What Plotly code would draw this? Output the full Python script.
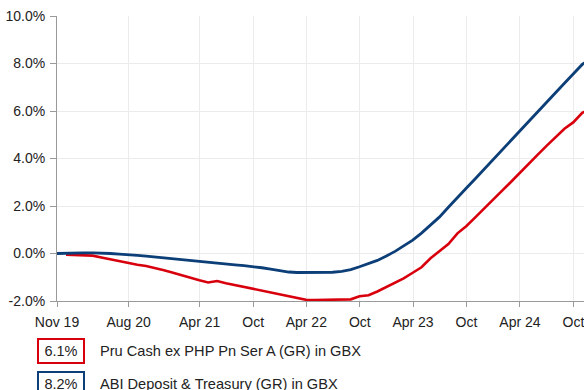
import plotly.graph_objects as go

# Month-end observations, cumulative growth in %
blue_dates = [
    "2019-11-30", "2019-12-31", "2020-01-31", "2020-02-29", "2020-03-31", "2020-04-30",
    "2020-05-31", "2020-06-30", "2020-07-31", "2020-08-31", "2020-09-30", "2020-10-31",
    "2020-11-30", "2020-12-31", "2021-01-31", "2021-02-28", "2021-03-31", "2021-04-30",
    "2021-05-31", "2021-06-30", "2021-07-31", "2021-08-31", "2021-09-30", "2021-10-31",
    "2021-11-30", "2021-12-31", "2022-01-31", "2022-02-28", "2022-03-31", "2022-04-30",
    "2022-05-31", "2022-06-30", "2022-07-31", "2022-08-31", "2022-09-30", "2022-10-31",
    "2022-11-30", "2022-12-31", "2023-01-31", "2023-02-28", "2023-03-31", "2023-04-30",
    "2023-05-31", "2023-06-30", "2023-07-31", "2023-08-31", "2023-09-30", "2023-10-31",
    "2023-11-30", "2023-12-31", "2024-01-31", "2024-02-29", "2024-03-31", "2024-04-30",
    "2024-05-31", "2024-06-30", "2024-07-31", "2024-08-31", "2024-09-30", "2024-10-31",
    "2024-11-29",
]
abi_values = [
    0.00, 0.02, 0.03, 0.03, 0.03, 0.03,
    0.00, -0.03, -0.04, -0.08, -0.11, -0.15,
    -0.18, -0.22, -0.26, -0.30, -0.34, -0.38,
    -0.42, -0.45, -0.48, -0.51, -0.54, -0.60,
    -0.66, -0.72, -0.78, -0.80, -0.80, -0.80,
    -0.80, -0.79, -0.75, -0.68, -0.56, -0.43,
    -0.29, -0.10, 0.10, 0.32, 0.56, 0.86,
    1.18, 1.53, 1.95, 2.37, 2.75, 3.15,
    3.55, 3.95, 4.36, 4.76, 5.16, 5.56,
    5.97, 6.36, 6.77, 7.17, 7.56, 7.96,
    8.20,
]

red_dates = blue_dates[1:]
pru_values = [
    -0.05, -0.06, -0.07, -0.09, -0.17,
    -0.25, -0.32, -0.40, -0.47, -0.53, -0.61,
    -0.71, -0.81, -0.93, -1.04, -1.13, -1.22,
    -1.16, -1.25, -1.33, -1.41, -1.50, -1.58,
    -1.66, -1.75, -1.82, -1.90, -1.95, -1.96,
    -1.96, -1.96, -1.95, -1.93, -1.80, -1.76,
    -1.60, -1.40, -1.22, -1.05, -0.81, -0.58,
    -0.20, 0.10, 0.40, 0.85, 1.15, 1.52,
    1.90, 2.27, 2.65, 3.00, 3.40, 3.78,
    4.15, 4.52, 4.90, 5.25, 5.52, 5.92,
    6.10,
]

series_names = ["Pru Cash ex PHP Pn Ser A (GR) in GBX", "ABI Deposit & Treasury (GR) in GBX"]
series_totals = ["6.1%", "8.2%"]
series_colors = ["#d9000d", "#0c3e77"]

x_tick_dates = ["2019-11-30", "2020-08-01", "2021-04-01", "2021-10-01", "2022-04-01",
                "2022-10-01", "2023-04-01", "2023-10-01", "2024-04-01", "2024-10-01"]
x_tick_labels = ["Nov 19", "Aug 20", "Apr 21", "Oct", "Apr 22", "Oct", "Apr 23", "Oct", "Apr 24", "Oct"]
y_tick_values = [-2, 0, 2, 4, 6, 8, 10]
y_tick_labels = ["-2.0%", "0.0%", "2.0%", "4.0%", "6.0%", "8.0%", "10.0%"]

FONT = "Liberation Sans, Arial, sans-serif"
W, H = 584, 390
ML, MR, MT, MB = 57, 0, 16, 89
PW, PH = W - ML - MR, H - MT - MB


def px_x(px):
    return (px - ML) / PW


def px_y(py):
    return (H - MB - py) / PH


fig = go.Figure()
fig.add_trace(go.Scatter(x=red_dates, y=pru_values, mode="lines",
                         line=dict(color=series_colors[0], width=2.6),
                         name=series_names[0], hoverinfo="skip"))
fig.add_trace(go.Scatter(x=blue_dates, y=abi_values, mode="lines",
                         line=dict(color=series_colors[1], width=2.8),
                         name=series_names[1], hoverinfo="skip"))

annotations = []
box_tops = [338, 371]
for i in range(2):
    top = box_tops[i]
    annotations.append(dict(
        xref="paper", yref="paper", x=px_x(37), y=px_y(top),
        xanchor="left", yanchor="top", showarrow=False,
        text=series_totals[i], width=42, height=20, borderpad=1,
        bordercolor=series_colors[i], borderwidth=2, align="center",
        font=dict(family=FONT, size=14.5, color="#222222"),
    ))
    annotations.append(dict(
        xref="paper", yref="paper", x=px_x(98), y=px_y(top + 13),
        xanchor="left", yanchor="middle", showarrow=False,
        text=series_names[i],
        font=dict(family=FONT, size=14.6, color="#222222"),
    ))

fig.update_layout(
    width=W, height=H,
    margin=dict(l=ML, r=MR, t=MT, b=MB, pad=0),
    paper_bgcolor="white", plot_bgcolor="white",
    showlegend=False,
    annotations=annotations,
    font=dict(family=FONT, size=14, color="#222222"),
)
fig.update_xaxes(
    type="date", range=["2019-11-30", "2024-11-06"],
    tickmode="array", tickvals=x_tick_dates, ticktext=x_tick_labels,
    showgrid=True, gridcolor="#ebebeb", gridwidth=1,
    showline=True, linecolor="#9a9a9a", linewidth=1,
    ticks="outside", ticklen=5, tickcolor="#9a9a9a", ticklabelstandoff=3,
    ticklabeloverflow="allow",
    zeroline=False,
)
fig.update_yaxes(
    range=[-2, 10], tickmode="array", tickvals=y_tick_values, ticktext=y_tick_labels,
    showgrid=True, gridcolor="#ebebeb", gridwidth=1,
    showline=True, linecolor="#9a9a9a", linewidth=1,
    ticks="outside", ticklen=6, tickcolor="#9a9a9a", ticklabelstandoff=2,
    zeroline=False,
)

fig.write_html("out.html")
